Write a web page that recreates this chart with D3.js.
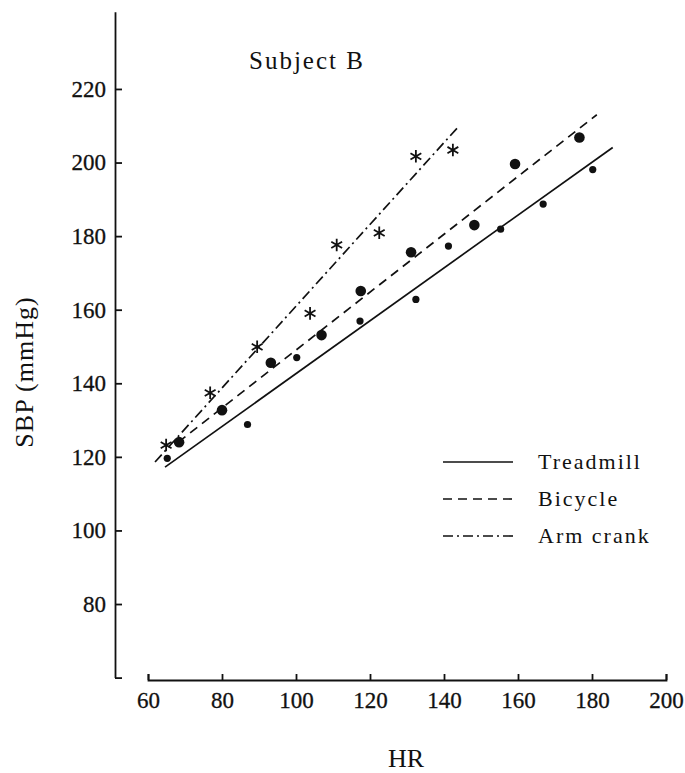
<!DOCTYPE html>
<html>
<head>
<meta charset="utf-8">
<script src="https://cdn.jsdelivr.net/npm/d3@7"></script>
<style>
  body { margin: 0; background: #fff; }
  svg { display: block; }
  text { font-family: "Liberation Serif", "DejaVu Serif", serif; fill: #111; }
</style>
</head>
<body>
<script>
var width = 685,
    height = 773;

// HR / SBP readings, Subject B
var treadmillHR  = [65.2, 86.9, 100.2, 117.3, 132.4, 141.2, 155.3, 166.8, 180.2];
var treadmillSBP = [119.6, 128.8, 147.0, 156.9, 162.8, 177.3, 181.9, 188.7, 198.1];

var bicycleHR  = [68.4, 80.0, 93.2, 106.9, 117.5, 131.1, 148.2, 159.2, 176.6];
var bicycleSBP = [124.0, 132.7, 145.6, 153.1, 165.1, 175.6, 183.0, 199.6, 206.8];

var armHR  = [64.9, 76.8, 89.5, 103.8, 111.0, 122.5, 132.4, 142.4];
var armSBP = [123.2, 137.4, 149.9, 159.0, 177.6, 180.9, 201.7, 203.4];

// regression lines: [HR, SBP] end points
var treadmillFit = [[64.6, 117.2], [185.6, 204.1]];
var bicycleFit   = [[68.2, 124.0], [181.3, 213.0]];
var armFit       = [[61.9, 118.6], [143.5, 209.3]];

var xTicks = [60, 80, 100, 120, 140, 160, 180, 200];
var yTicks = [60, 80, 100, 120, 140, 160, 180, 200, 220];

var legendNames = ["Treadmill", "Bicycle", "Arm crank"];
var legendDash = ["none", "9,6", "10,4,2,4"];

var svg = d3.select("body")
    .append("svg")
    .attr("width", width)
    .attr("height", height);

var x = d3.scaleLinear().domain([60, 200]).range([148, 666]);
var y = d3.scaleLinear().domain([60, 241]).range([677.6, 11.7]);

// x axis (starts at 60, not joined to y axis)
svg.append("g")
    .attr("transform", "translate(0,680)")
    .call(d3.axisBottom(x)
        .tickValues(xTicks)
        .tickSizeInner(-6)
        .tickSizeOuter(-6)
        .tickPadding(12));

// y axis
svg.append("g")
    .attr("transform", "translate(115,0)")
    .call(d3.axisLeft(y)
        .tickValues(yTicks)
        .tickSizeInner(-7)
        .tickSizeOuter(0)
        .tickPadding(9)
        .tickFormat(function(d){ return d === 60 ? "" : d; }));

svg.selectAll(".domain, .tick line")
    .attr("stroke", "#111")
    .attr("stroke-width", 1.8);

svg.selectAll(".tick text")
    .style("font-size", "23px")
    .style("font-family", "Liberation Serif, serif")
    .attr("fill", "#111")
    .attr("stroke", "#111")
    .attr("stroke-width", 0.3);

// axis titles
svg.append("text")
    .attr("x", 406)
    .attr("y", 767)
    .attr("text-anchor", "middle")
    .style("font-size", "26px")
    .text("HR");

svg.append("text")
    .attr("transform", "translate(33,372) rotate(-90)")
    .attr("text-anchor", "middle")
    .style("font-size", "26px")
    .style("letter-spacing", "1px")
    .text("SBP (mmHg)");

svg.append("text")
    .attr("x", 249)
    .attr("y", 69)
    .style("font-size", "25px")
    .style("letter-spacing", "2px")
    .text("Subject B");

// fit lines
var line = d3.line()
    .x(function(d){ return x(d[0]); })
    .y(function(d){ return y(d[1]); });

var fits = [treadmillFit, bicycleFit, armFit];
svg.append("g")
    .selectAll("path")
    .data(fits)
    .enter()
    .append("path")
    .attr("d", line)
    .attr("fill", "none")
    .attr("stroke", "#111")
    .attr("stroke-width", 1.7)
    .attr("stroke-dasharray", function(d, i){ return legendDash[i]; });

// points
svg.append("g")
    .selectAll("circle")
    .data(d3.zip(treadmillHR, treadmillSBP))
    .enter()
    .append("circle")
    .attr("cx", function(d){ return x(d[0]); })
    .attr("cy", function(d){ return y(d[1]); })
    .attr("r", 3.6)
    .attr("fill", "#111");

svg.append("g")
    .selectAll("circle")
    .data(d3.zip(bicycleHR, bicycleSBP))
    .enter()
    .append("circle")
    .attr("cx", function(d){ return x(d[0]); })
    .attr("cy", function(d){ return y(d[1]); })
    .attr("r", 5.3)
    .attr("fill", "#111");

var star = d3.symbol().type(d3.symbolAsterisk).size(110);
svg.append("g")
    .selectAll("path")
    .data(d3.zip(armHR, armSBP))
    .enter()
    .append("path")
    .attr("d", star)
    .attr("transform", function(d){ return "translate(" + x(d[0]) + "," + y(d[1]) + ")"; })
    .attr("fill", "none")
    .attr("stroke", "#111")
    .attr("stroke-width", 1.8);

// legend
var legend = svg.append("g")
    .selectAll("g")
    .data(legendNames)
    .enter()
    .append("g")
    .attr("transform", function(d, i){ return "translate(0," + (462 + i * 37) + ")"; });

legend.append("line")
    .attr("x1", 443)
    .attr("x2", 513)
    .attr("stroke", "#111")
    .attr("stroke-width", 1.6)
    .attr("stroke-dasharray", function(d, i){ return legendDash[i]; });

legend.append("text")
    .attr("x", 538)
    .attr("y", 7)
    .style("font-size", "22px")
    .style("letter-spacing", "2px")
    .text(function(d){ return d; });
</script>
</body>
</html>
